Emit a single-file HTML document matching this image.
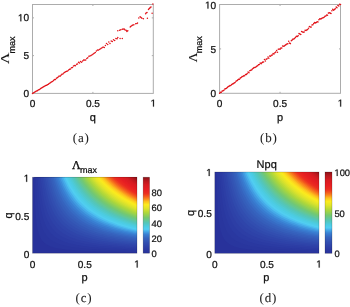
<!DOCTYPE html>
<html><head><meta charset="utf-8"><title>figure</title>
<style>
html,body{margin:0;padding:0;background:#fff;}
body{width:350px;height:307px;overflow:hidden;font-family:"Liberation Sans",sans-serif;}
svg{display:block;filter:blur(0.3px);}
text{fill:#111;stroke:#111;stroke-width:0.24px;text-rendering:geometricPrecision;}
</style></head><body>
<svg width="350" height="307" viewBox="0 0 350 307">
<rect width="350" height="307" fill="#fff"/>
<g>
<rect x="32.50" y="4.50" width="120.80" height="88.90" fill="none" stroke="#acacac" stroke-width="1"/>
<path d="M92.90 93.40v-1.5M92.90 4.50v1.5" stroke="#acacac" stroke-width="1" fill="none"/>
<path d="M32.50 55.63h1.5M153.30 55.63h-1.5" stroke="#acacac" stroke-width="1" fill="none"/>
<path d="M32.50 17.87h1.5M153.30 17.87h-1.5" stroke="#acacac" stroke-width="1" fill="none"/>
<text x="29.10" y="96.80" font-size="10.1" text-anchor="end" font-family="Liberation Sans" >0</text>
<text x="29.10" y="59.03" font-size="10.1" text-anchor="end" font-family="Liberation Sans" >5</text>
<path d="M20.41 21.27L20.41 15.17L18.84 16.29L18.84 15.45L20.48 14.32L21.30 14.32L21.30 21.27Z" fill="#111" stroke="#111" stroke-width="0.24"/>
<text x="23.48" y="21.27" font-size="10.1" font-family="Liberation Sans" >0</text>
<text x="32.50" y="106.60" font-size="10.1" text-anchor="middle" font-family="Liberation Sans" >0</text>
<text x="92.90" y="106.60" font-size="10.1" text-anchor="middle" font-family="Liberation Sans" >0.5</text>
<path d="M153.03 106.60L153.03 100.50L151.46 101.62L151.46 100.78L153.11 99.65L153.92 99.65L153.92 106.60Z" fill="#111" stroke="#111" stroke-width="0.24"/>
<text x="92.80" y="121.00" font-size="11" text-anchor="middle" font-family="Liberation Sans" >q</text>
<g transform="translate(9.10 64.00) rotate(-90)" ><text x="0" y="0" font-family="Liberation Serif" font-size="12" transform="scale(1.3 1)" style="stroke-width:0.1px">&#923;</text><text x="10.50" y="5.40" font-family="Liberation Sans" font-size="9">max</text></g>
<text x="81.20" y="142.00" font-size="13" text-anchor="middle" font-family="Liberation Serif" letter-spacing="0.8" style="stroke-width:0.05px;fill:#222">(a)</text>
<path d="M152.9 4.0h0M151.0 6.9h0M149.8 8.2h0M148.5 9.5h0M152.1 13.2h0M147.0 12.4h0M145.6 13.7h0M147.4 18.3h0M143.4 18.8h0M141.9 18.3h0M140.1 16.8h0M138.8 17.9h0M137.5 22.9h0M135.7 23.8h0M133.9 24.7h0M132.0 25.6h0M130.2 27.1h0M127.8 30.7h0M126.9 31.4h0M126.0 30.2h0M124.2 28.9h0M122.3 29.3h0M119.6 30.2h0M117.8 30.7h0M122.3 38.4h0M120.1 38.4h0M117.8 37.5h0M150.1 7.4h0M149.0 8.8h0M146.1 13.0h0M141.0 17.6h0M137.0 23.5h0M132.9 25.1h0M131.0 26.3h0M126.5 30.8h0M124.8 29.7h0M123.1 29.0h0M120.8 29.8h0M32.5 93.6h0M33.3 93.1h0M34.1 92.5h0M34.9 92.0h0M35.7 91.6h0M36.5 91.1h0M37.4 90.7h0M38.2 90.1h0M39.0 89.7h0M39.8 89.2h0M40.7 88.6h0M41.5 88.1h0M42.4 87.6h0M43.2 87.0h0M44.0 86.4h0M44.9 86.0h0M45.8 85.6h0M46.6 85.3h0M47.5 84.7h0M48.4 84.2h0M49.2 83.6h0M50.1 83.0h0M51.0 82.3h0M51.9 81.8h0M52.8 81.3h0M53.7 80.2h0M54.6 79.5h0M55.5 79.4h0M56.4 78.3h0M57.3 77.8h0M58.2 77.1h0M59.1 76.0h0M60.1 76.2h0M61.0 75.3h0M61.9 74.3h0M62.9 73.9h0M63.8 73.1h0M64.8 72.2h0M65.7 71.8h0M66.7 71.3h0M67.6 70.9h0M68.6 70.1h0M69.6 69.3h0M70.5 69.1h0M71.5 67.7h0M72.5 67.6h0M73.5 66.0h0M74.5 65.6h0M75.5 65.8h0M76.5 64.2h0M77.5 63.9h0M78.5 62.3h0M79.5 62.9h0M80.5 61.5h0M81.6 62.2h0M82.6 60.9h0M83.6 59.9h0M84.7 60.1h0M85.7 60.1h0M86.8 58.6h0M87.8 57.7h0M88.9 56.2h0M89.9 56.1h0M91.0 55.4h0M92.1 54.8h0M93.2 53.9h0M94.2 53.3h0M95.3 52.6h0M96.4 51.1h0M97.5 50.1h0M98.6 50.0h0M99.8 49.2h0M100.9 48.6h0M102.0 47.7h0M103.1 46.9h0M104.3 47.4h0M105.4 45.5h0M106.5 43.6h0M107.7 44.4h0M108.8 42.1h0M110.0 43.6h0M111.2 41.1h0M112.3 41.6h0M113.5 39.7h0M114.7 40.5h0M115.9 38.4h0M117.1 38.8h0" stroke="#e2141a" stroke-width="1.5" stroke-linecap="round" fill="none"/>
<rect x="219.60" y="4.50" width="120.90" height="88.80" fill="none" stroke="#acacac" stroke-width="1"/>
<path d="M280.05 93.30v-1.5M280.05 4.50v1.5" stroke="#acacac" stroke-width="1" fill="none"/>
<path d="M219.60 48.90h1.5M340.50 48.90h-1.5" stroke="#acacac" stroke-width="1" fill="none"/>
<text x="216.20" y="97.40" font-size="10.1" text-anchor="end" font-family="Liberation Sans" >0</text>
<text x="216.20" y="53.00" font-size="10.1" text-anchor="end" font-family="Liberation Sans" >5</text>
<path d="M207.51 8.60L207.51 2.50L205.94 3.62L205.94 2.78L207.58 1.65L208.40 1.65L208.40 8.60Z" fill="#111" stroke="#111" stroke-width="0.24"/>
<text x="210.58" y="8.60" font-size="10.1" font-family="Liberation Sans" >0</text>
<text x="219.60" y="106.60" font-size="10.1" text-anchor="middle" font-family="Liberation Sans" >0</text>
<text x="280.05" y="106.60" font-size="10.1" text-anchor="middle" font-family="Liberation Sans" >0.5</text>
<path d="M340.23 106.60L340.23 100.50L338.66 101.62L338.66 100.78L340.31 99.65L341.12 99.65L341.12 106.60Z" fill="#111" stroke="#111" stroke-width="0.24"/>
<text x="280.00" y="121.00" font-size="11" text-anchor="middle" font-family="Liberation Sans" >p</text>
<g transform="translate(196.60 62.30) rotate(-90)" ><text x="0" y="0" font-family="Liberation Serif" font-size="12" transform="scale(1.12 1)" style="stroke-width:0.1px">&#923;</text><text x="9.00" y="5.60" font-family="Liberation Sans" font-size="9">max</text></g>
<text x="268.80" y="142.00" font-size="13" text-anchor="middle" font-family="Liberation Serif" letter-spacing="0.8" style="stroke-width:0.05px;fill:#222">(b)</text>
<path d="M219.6 93.3h0M220.5 92.3h0M221.3 92.3h0M222.2 91.1h0M223.1 90.8h0M223.9 90.2h0M224.8 88.9h0M225.6 88.8h0M226.5 88.2h0M227.4 87.4h0M228.2 86.6h0M229.1 86.3h0M230.0 85.5h0M230.8 85.4h0M231.7 84.5h0M232.6 83.9h0M233.4 83.6h0M234.3 83.0h0M235.1 82.4h0M236.0 81.3h0M236.9 80.7h0M237.7 80.1h0M238.6 79.3h0M239.5 79.2h0M240.3 78.1h0M241.2 77.4h0M242.1 76.5h0M242.9 76.5h0M243.8 75.7h0M244.6 75.7h0M245.5 74.5h0M246.4 74.5h0M247.2 73.6h0M248.1 71.9h0M249.0 72.7h0M249.8 70.8h0M250.7 70.3h0M251.6 70.0h0M252.4 69.0h0M253.3 68.3h0M254.1 67.5h0M255.0 67.4h0M255.9 66.9h0M256.7 66.3h0M257.6 65.8h0M258.5 64.8h0M259.3 64.5h0M260.2 63.0h0M261.1 63.8h0M261.9 62.7h0M262.8 62.1h0M263.6 62.0h0M264.5 59.4h0M265.4 60.9h0M266.2 59.2h0M267.1 58.7h0M268.0 56.9h0M268.8 58.2h0M269.7 55.9h0M270.6 56.3h0M271.4 55.3h0M272.3 55.0h0M273.1 53.6h0M274.0 54.0h0M274.9 52.7h0M275.7 51.9h0M276.6 50.4h0M277.5 52.2h0M278.3 49.3h0M279.2 49.0h0M280.1 49.2h0M280.9 48.1h0M281.8 47.9h0M282.6 46.0h0M283.5 46.2h0M284.4 45.9h0M285.2 45.2h0M286.1 44.6h0M287.0 43.9h0M287.8 43.7h0M288.7 41.3h0M289.5 43.1h0M290.4 43.6h0M291.3 40.7h0M292.1 40.1h0M293.0 39.1h0M293.9 38.9h0M294.7 38.2h0M295.6 37.3h0M296.5 36.2h0M297.3 36.5h0M298.2 35.8h0M299.0 33.6h0M299.9 34.0h0M300.8 34.4h0M301.6 31.4h0M302.5 31.9h0M303.4 32.2h0M304.2 32.0h0M305.1 30.3h0M306.0 30.5h0M306.8 30.0h0M307.7 29.5h0M308.5 28.3h0M309.4 26.5h0M310.3 27.0h0M311.1 27.1h0M312.0 24.9h0M312.9 24.7h0M313.7 23.5h0M314.6 22.6h0M315.5 23.0h0M316.3 22.4h0M317.2 21.7h0M318.0 21.9h0M318.9 19.8h0M319.8 18.7h0M320.6 19.0h0M321.5 18.6h0M322.4 18.0h0M323.2 17.8h0M324.1 17.2h0M325.0 16.2h0M325.8 16.0h0M326.7 15.0h0M327.5 15.3h0M328.4 13.1h0M329.3 12.7h0M330.1 13.1h0M331.0 13.4h0M331.9 10.8h0M332.7 9.3h0M333.6 10.2h0M334.5 9.4h0M335.3 8.8h0M336.2 7.1h0M337.0 7.8h0M337.9 5.5h0M338.8 6.0h0M339.6 4.3h0M340.5 4.5h0" stroke="#e2141a" stroke-width="1.55" stroke-linecap="round" fill="none"/>
<rect x="32.50" y="177.20" width="104.50" height="76.00" fill="#28329b"/>
<path d="M34.1 177.2L34.3 184.2L34.5 190.6L34.7 196.4L34.9 201.6L35.1 206.4L35.4 210.7L35.7 214.7L36.0 218.2L36.4 221.5L36.8 224.4L37.2 227.1L37.7 229.5L38.2 231.7L38.8 233.7L39.4 235.5L40.1 237.1L40.9 238.6L41.7 239.9L42.7 241.2L43.7 242.3L44.9 243.3L46.1 244.2L47.5 245.0L49.0 245.8L50.7 246.5L52.6 247.1L54.6 247.7L56.9 248.2L59.4 248.6L62.1 249.1L65.1 249.4L68.4 249.8L72.1 250.1L76.1 250.4L80.6 250.7L85.5 250.9L90.9 251.1L96.8 251.3L103.4 251.5L110.6 251.6L118.6 251.8L127.3 251.9L137.0 252.0L137.0 177.2Z" fill="#29369e"/>
<path d="M35.7 177.2L36.0 183.2L36.3 188.8L36.6 193.9L37.0 198.6L37.4 203.0L37.8 207.0L38.3 210.6L38.8 214.0L39.3 217.1L39.9 220.0L40.5 222.6L41.2 225.1L42.0 227.3L42.8 229.4L43.7 231.3L44.6 233.0L45.7 234.6L46.8 236.1L48.1 237.4L49.4 238.7L50.9 239.9L52.4 240.9L54.2 241.9L56.0 242.8L58.1 243.6L60.3 244.4L62.7 245.1L65.3 245.7L68.1 246.3L71.2 246.9L74.5 247.4L78.1 247.8L82.1 248.3L86.4 248.7L91.0 249.0L96.1 249.3L101.6 249.7L107.5 249.9L114.0 250.2L121.0 250.4L128.7 250.7L137.0 250.9L137.0 177.2Z" fill="#2a38a0"/>
<path d="M37.3 177.2L37.7 182.6L38.1 187.5L38.5 192.2L39.0 196.5L39.5 200.5L40.0 204.2L40.6 207.7L41.2 210.9L41.8 213.9L42.6 216.6L43.3 219.2L44.1 221.6L45.0 223.8L46.0 225.9L47.0 227.8L48.1 229.6L49.3 231.3L50.5 232.8L51.9 234.3L53.4 235.6L55.0 236.9L56.7 238.0L58.5 239.1L60.5 240.1L62.6 241.0L64.9 241.9L67.4 242.7L70.0 243.4L72.9 244.1L75.9 244.7L79.2 245.3L82.8 245.9L86.6 246.4L90.7 246.9L95.1 247.3L99.9 247.7L105.0 248.1L110.5 248.5L116.4 248.8L122.8 249.1L129.6 249.4L137.0 249.7L137.0 177.2Z" fill="#2b3ba3"/>
<path d="M38.9 177.2L39.4 182.2L39.9 186.9L40.4 191.2L41.0 195.3L41.6 199.1L42.2 202.6L42.9 206.0L43.6 209.1L44.4 212.0L45.2 214.7L46.1 217.2L47.1 219.6L48.1 221.8L49.2 223.8L50.4 225.8L51.6 227.6L53.0 229.3L54.4 230.8L55.9 232.3L57.6 233.7L59.4 235.0L61.2 236.2L63.3 237.3L65.4 238.3L67.7 239.3L70.2 240.2L72.9 241.1L75.7 241.9L78.7 242.6L82.0 243.3L85.5 244.0L89.2 244.6L93.2 245.1L97.4 245.7L102.0 246.2L106.9 246.6L112.1 247.0L117.7 247.5L123.7 247.8L130.1 248.2L137.0 248.5L137.0 177.2Z" fill="#2d3ea5"/>
<path d="M40.6 177.2L41.1 181.9L41.7 186.3L42.3 190.5L42.9 194.4L43.6 198.0L44.3 201.5L45.1 204.7L46.0 207.7L46.8 210.5L47.8 213.2L48.8 215.6L49.9 218.0L51.0 220.2L52.3 222.2L53.6 224.1L55.0 225.9L56.4 227.6L58.0 229.2L59.7 230.7L61.5 232.1L63.4 233.4L65.5 234.6L67.7 235.8L70.0 236.9L72.5 237.9L75.1 238.8L77.9 239.7L80.9 240.6L84.2 241.3L87.6 242.1L91.2 242.8L95.1 243.4L99.2 244.0L103.7 244.6L108.4 245.1L113.4 245.6L118.7 246.1L124.4 246.5L130.5 247.0L137.0 247.3L137.0 177.2Z" fill="#2e42a8"/>
<path d="M42.2 177.2L42.8 181.6L43.4 185.7L44.1 189.6L44.8 193.3L45.5 196.8L46.3 200.0L47.2 203.1L48.1 206.0L49.0 208.7L50.0 211.3L51.1 213.7L52.2 216.0L53.5 218.1L54.7 220.2L56.1 222.1L57.6 223.9L59.1 225.6L60.7 227.2L62.5 228.7L64.3 230.1L66.2 231.4L68.3 232.7L70.5 233.9L72.8 235.0L75.3 236.0L77.9 237.0L80.7 238.0L83.7 238.8L86.8 239.7L90.1 240.4L93.7 241.2L97.4 241.9L101.4 242.5L105.6 243.2L110.1 243.7L114.9 244.3L119.9 244.8L125.3 245.3L131.0 245.7L137.0 246.2L137.0 177.2Z" fill="#2f45aa"/>
<path d="M43.8 177.2L44.4 181.4L45.1 185.4L45.9 189.2L46.7 192.7L47.5 196.1L48.4 199.2L49.3 202.2L50.3 205.1L51.4 207.7L52.5 210.3L53.6 212.6L54.9 214.9L56.2 217.0L57.6 219.0L59.1 220.9L60.6 222.7L62.3 224.4L64.0 226.0L65.9 227.5L67.8 228.9L69.9 230.3L72.1 231.5L74.4 232.8L76.9 233.9L79.5 235.0L82.3 236.0L85.2 236.9L88.3 237.8L91.6 238.7L95.0 239.5L98.7 240.2L102.6 241.0L106.7 241.6L111.1 242.3L115.7 242.9L120.6 243.5L125.7 244.0L131.2 244.5L137.0 245.0L137.0 177.2Z" fill="#304aad"/>
<path d="M45.4 177.2L46.1 181.2L46.9 184.9L47.6 188.5L48.5 191.9L49.4 195.1L50.3 198.1L51.3 201.0L52.3 203.7L53.4 206.3L54.5 208.8L55.8 211.1L57.0 213.3L58.4 215.4L59.8 217.3L61.3 219.2L62.9 221.0L64.6 222.7L66.4 224.3L68.2 225.8L70.2 227.2L72.3 228.6L74.5 229.9L76.8 231.1L79.2 232.2L81.8 233.3L84.5 234.4L87.4 235.3L90.4 236.3L93.6 237.2L97.0 238.0L100.5 238.8L104.3 239.5L108.2 240.3L112.4 240.9L116.8 241.6L121.5 242.2L126.4 242.8L131.5 243.3L137.0 243.8L137.0 177.2Z" fill="#324eb0"/>
<path d="M47.0 177.2L47.8 181.0L48.6 184.7L49.5 188.2L50.4 191.5L51.3 194.6L52.3 197.6L53.4 200.4L54.5 203.1L55.7 205.6L56.9 208.0L58.2 210.3L59.6 212.5L61.0 214.5L62.5 216.5L64.1 218.3L65.8 220.1L67.6 221.8L69.5 223.4L71.4 224.9L73.5 226.3L75.7 227.7L78.0 229.0L80.4 230.2L83.0 231.4L85.7 232.5L88.5 233.5L91.5 234.5L94.6 235.5L98.0 236.4L101.5 237.2L105.1 238.0L109.0 238.8L113.1 239.5L117.4 240.2L121.9 240.9L126.7 241.5L131.7 242.1L137.0 242.7L137.0 177.2Z" fill="#3353b3"/>
<path d="M48.6 177.2L49.5 180.9L50.3 184.5L51.3 187.9L52.2 191.1L53.2 194.2L54.3 197.1L55.5 199.8L56.6 202.5L57.9 205.0L59.2 207.3L60.6 209.6L62.1 211.8L63.6 213.8L65.2 215.7L66.9 217.6L68.7 219.3L70.5 221.0L72.5 222.6L74.6 224.1L76.8 225.5L79.1 226.9L81.5 228.2L84.0 229.4L86.7 230.6L89.5 231.7L92.4 232.8L95.6 233.8L98.8 234.7L102.3 235.6L105.9 236.5L109.7 237.3L113.7 238.1L117.9 238.9L122.3 239.6L127.0 240.2L131.9 240.9L137.0 241.5L137.0 177.2Z" fill="#3458b6"/>
<path d="M50.2 177.2L51.1 180.8L52.0 184.1L53.0 187.4L54.0 190.5L55.0 193.4L56.1 196.2L57.3 198.9L58.5 201.4L59.8 203.8L61.1 206.1L62.5 208.4L64.0 210.5L65.6 212.5L67.2 214.4L68.9 216.2L70.7 217.9L72.6 219.6L74.5 221.1L76.6 222.6L78.8 224.1L81.0 225.4L83.4 226.7L85.9 228.0L88.5 229.2L91.3 230.3L94.2 231.4L97.2 232.4L100.4 233.4L103.7 234.3L107.2 235.2L110.9 236.0L114.7 236.8L118.8 237.6L123.0 238.3L127.4 239.0L132.1 239.7L137.0 240.3L137.0 177.2Z" fill="#355eba"/>
<path d="M51.8 177.2L52.8 180.7L53.7 184.0L54.8 187.2L55.8 190.2L56.9 193.1L58.1 195.8L59.3 198.5L60.6 201.0L62.0 203.4L63.4 205.6L64.9 207.8L66.4 209.9L68.1 211.9L69.8 213.8L71.6 215.6L73.4 217.3L75.4 218.9L77.5 220.5L79.6 222.0L81.9 223.4L84.2 224.8L86.7 226.1L89.3 227.3L92.1 228.5L94.9 229.6L97.9 230.7L101.0 231.8L104.3 232.7L107.8 233.7L111.4 234.6L115.2 235.4L119.1 236.2L123.3 237.0L127.7 237.8L132.2 238.5L137.0 239.1L137.0 177.2Z" fill="#3663be"/>
<path d="M53.5 177.2L54.4 180.6L55.5 183.9L56.5 187.0L57.7 190.0L58.9 192.8L60.1 195.5L61.4 198.1L62.7 200.6L64.2 202.9L65.7 205.2L67.2 207.3L68.8 209.4L70.6 211.4L72.3 213.2L74.2 215.0L76.2 216.7L78.2 218.4L80.4 219.9L82.6 221.4L85.0 222.9L87.4 224.2L90.0 225.5L92.7 226.8L95.6 228.0L98.5 229.1L101.6 230.2L104.9 231.2L108.3 232.2L111.8 233.1L115.6 234.0L119.5 234.9L123.6 235.7L127.8 236.5L132.3 237.2L137.0 238.0L137.0 177.2Z" fill="#376bc4"/>
<path d="M55.1 177.2L56.1 180.5L57.1 183.6L58.2 186.6L59.4 189.4L60.6 192.1L61.8 194.8L63.2 197.3L64.5 199.7L66.0 202.0L67.5 204.2L69.0 206.3L70.7 208.3L72.4 210.2L74.2 212.0L76.0 213.8L78.0 215.5L80.0 217.1L82.1 218.7L84.4 220.1L86.7 221.5L89.1 222.9L91.6 224.2L94.3 225.4L97.0 226.6L99.9 227.8L103.0 228.9L106.1 229.9L109.4 230.9L112.9 231.9L116.4 232.8L120.2 233.6L124.1 234.5L128.2 235.3L132.5 236.1L137.0 236.8L137.0 177.2Z" fill="#3874ca"/>
<path d="M56.7 177.2L57.7 180.4L58.8 183.5L60.0 186.4L61.2 189.2L62.5 191.9L63.8 194.5L65.2 197.0L66.6 199.3L68.1 201.6L69.7 203.8L71.3 205.9L73.0 207.9L74.8 209.8L76.7 211.6L78.6 213.4L80.6 215.0L82.8 216.6L85.0 218.2L87.3 219.7L89.7 221.1L92.2 222.4L94.8 223.7L97.6 225.0L100.4 226.2L103.4 227.3L106.5 228.4L109.8 229.4L113.2 230.4L116.8 231.4L120.5 232.3L124.3 233.2L128.4 234.0L132.6 234.8L137.0 235.6L137.0 177.2Z" fill="#397dd1"/>
<path d="M58.3 177.2L59.4 180.3L60.5 183.2L61.7 186.0L62.9 188.7L64.2 191.3L65.5 193.8L66.9 196.2L68.3 198.5L69.8 200.7L71.4 202.8L73.1 204.9L74.8 206.8L76.5 208.7L78.4 210.5L80.3 212.2L82.3 213.9L84.4 215.4L86.6 217.0L88.9 218.4L91.2 219.8L93.7 221.2L96.3 222.5L98.9 223.7L101.7 224.9L104.7 226.0L107.7 227.1L110.8 228.2L114.1 229.2L117.6 230.2L121.1 231.1L124.9 232.0L128.7 232.8L132.8 233.7L137.0 234.4L137.0 177.2Z" fill="#3c8ad8"/>
<path d="M59.9 177.2L61.0 180.2L62.2 183.1L63.4 185.9L64.7 188.6L66.1 191.2L67.4 193.6L68.9 196.0L70.4 198.3L72.0 200.4L73.6 202.5L75.3 204.6L77.1 206.5L78.9 208.3L80.8 210.1L82.8 211.8L84.9 213.5L87.1 215.1L89.4 216.6L91.7 218.0L94.2 219.4L96.7 220.8L99.4 222.1L102.2 223.3L105.0 224.5L108.0 225.6L111.2 226.7L114.4 227.8L117.8 228.8L121.3 229.8L125.0 230.7L128.9 231.6L132.8 232.4L137.0 233.3L137.0 177.2Z" fill="#419be1"/>
<path d="M61.5 177.2L62.7 180.2L63.9 183.1L65.2 185.8L66.5 188.4L67.9 191.0L69.4 193.4L70.9 195.8L72.5 198.0L74.1 200.2L75.8 202.3L77.6 204.3L79.4 206.2L81.3 208.0L83.3 209.8L85.4 211.5L87.6 213.2L89.8 214.7L92.1 216.2L94.6 217.7L97.1 219.1L99.8 220.4L102.5 221.7L105.4 222.9L108.4 224.1L111.5 225.3L114.7 226.4L118.0 227.4L121.5 228.4L125.2 229.4L129.0 230.3L132.9 231.2L137.0 232.1L137.0 177.2Z" fill="#46adea"/>
<path d="M63.1 177.2L64.3 180.1L65.6 182.8L66.9 185.5L68.2 188.0L69.6 190.5L71.0 192.8L72.6 195.1L74.1 197.3L75.7 199.4L77.4 201.4L79.2 203.4L81.0 205.2L82.9 207.0L84.9 208.8L86.9 210.5L89.1 212.1L91.3 213.6L93.6 215.1L96.0 216.5L98.4 217.9L101.0 219.2L103.7 220.5L106.5 221.7L109.4 222.9L112.4 224.1L115.5 225.2L118.8 226.2L122.1 227.2L125.6 228.2L129.3 229.2L133.1 230.1L137.0 230.9L137.0 177.2Z" fill="#4dc1f0"/>
<path d="M64.7 177.2L66.0 180.0L67.3 182.8L68.6 185.4L70.0 187.9L71.5 190.3L73.0 192.7L74.5 194.9L76.2 197.1L77.9 199.2L79.6 201.2L81.4 203.1L83.3 205.0L85.3 206.8L87.3 208.5L89.4 210.2L91.6 211.8L93.9 213.3L96.3 214.8L98.8 216.2L101.3 217.6L104.0 218.9L106.8 220.2L109.6 221.4L112.6 222.6L115.7 223.8L118.9 224.9L122.3 225.9L125.8 226.9L129.4 227.9L133.1 228.9L137.0 229.8L137.0 177.2Z" fill="#51cef1"/>
<path d="M66.3 177.2L67.6 179.9L68.9 182.5L70.2 185.1L71.6 187.5L73.1 189.8L74.6 192.1L76.2 194.3L77.8 196.4L79.4 198.4L81.2 200.4L83.0 202.3L84.9 204.1L86.8 205.8L88.8 207.5L90.9 209.2L93.1 210.7L95.3 212.2L97.6 213.7L100.0 215.1L102.5 216.5L105.1 217.8L107.8 219.1L110.6 220.3L113.5 221.5L116.5 222.6L119.6 223.7L122.9 224.7L126.2 225.7L129.7 226.7L133.3 227.7L137.0 228.6L137.0 177.2Z" fill="#4ecde9"/>
<path d="M68.0 177.2L69.3 179.9L70.6 182.5L72.0 185.0L73.5 187.4L75.0 189.7L76.5 192.0L78.1 194.1L79.8 196.2L81.5 198.2L83.3 200.2L85.2 202.1L87.1 203.9L89.1 205.6L91.2 207.3L93.4 208.9L95.6 210.5L97.9 212.0L100.3 213.5L102.8 214.9L105.4 216.2L108.1 217.5L110.8 218.8L113.7 220.0L116.7 221.2L119.8 222.3L123.0 223.4L126.3 224.5L129.7 225.5L133.3 226.5L137.0 227.4L137.0 177.2Z" fill="#4ccce1"/>
<path d="M69.6 177.2L70.9 179.9L72.3 182.4L73.8 184.9L75.3 187.3L76.8 189.6L78.4 191.9L80.1 194.0L81.8 196.1L83.6 198.1L85.5 200.0L87.4 201.9L89.4 203.7L91.5 205.4L93.6 207.1L95.9 208.7L98.2 210.3L100.6 211.8L103.0 213.3L105.6 214.7L108.3 216.0L111.0 217.3L113.9 218.6L116.8 219.8L119.9 221.0L123.1 222.1L126.4 223.2L129.8 224.2L133.3 225.3L137.0 226.2L137.0 177.2Z" fill="#4fcad4"/>
<path d="M71.2 177.2L72.5 179.8L73.9 182.2L75.4 184.6L76.9 186.9L78.4 189.2L80.0 191.3L81.7 193.4L83.4 195.4L85.2 197.4L87.0 199.3L88.9 201.1L90.9 202.8L92.9 204.5L95.0 206.2L97.2 207.7L99.4 209.3L101.8 210.8L104.2 212.2L106.7 213.6L109.3 214.9L111.9 216.2L114.7 217.4L117.6 218.6L120.5 219.8L123.6 220.9L126.8 222.0L130.1 223.1L133.5 224.1L137.0 225.1L137.0 177.2Z" fill="#51c8c6"/>
<path d="M72.8 177.2L74.2 179.7L75.6 182.2L77.1 184.6L78.7 186.9L80.3 189.1L81.9 191.2L83.6 193.3L85.4 195.3L87.2 197.3L89.1 199.1L91.1 200.9L93.1 202.7L95.2 204.4L97.4 206.0L99.6 207.6L102.0 209.1L104.4 210.6L106.9 212.0L109.4 213.4L112.1 214.7L114.8 216.0L117.7 217.3L120.6 218.5L123.7 219.6L126.9 220.7L130.1 221.8L133.5 222.9L137.0 223.9L137.0 177.2Z" fill="#54c6b9"/>
<path d="M74.4 177.2L75.8 179.7L77.3 182.2L78.9 184.5L80.5 186.8L82.1 189.0L83.8 191.2L85.6 193.2L87.4 195.2L89.3 197.2L91.3 199.0L93.3 200.8L95.4 202.6L97.6 204.3L99.8 205.9L102.1 207.5L104.5 209.0L107.0 210.5L109.6 211.9L112.2 213.2L115.0 214.6L117.8 215.9L120.7 217.1L123.8 218.3L126.9 219.5L130.2 220.6L133.5 221.7L137.0 222.7L137.0 177.2Z" fill="#5bc6a8"/>
<path d="M76.0 177.2L77.4 179.6L78.9 182.0L80.5 184.2L82.0 186.5L83.7 188.6L85.4 190.6L87.1 192.6L88.9 194.6L90.8 196.4L92.7 198.3L94.7 200.0L96.7 201.7L98.8 203.4L101.0 204.9L103.3 206.5L105.6 208.0L108.0 209.4L110.5 210.8L113.1 212.2L115.8 213.5L118.5 214.8L121.3 216.0L124.3 217.2L127.3 218.3L130.4 219.4L133.7 220.5L137.0 221.6L137.0 177.2Z" fill="#63c797"/>
<path d="M77.6 177.2L79.1 179.6L80.6 182.0L82.2 184.2L83.8 186.4L85.5 188.5L87.3 190.6L89.1 192.6L90.9 194.5L92.8 196.4L94.8 198.2L96.9 199.9L99.0 201.6L101.2 203.3L103.4 204.8L105.8 206.4L108.2 207.9L110.6 209.3L113.2 210.7L115.9 212.1L118.6 213.4L121.4 214.6L124.3 215.9L127.3 217.0L130.5 218.2L133.7 219.3L137.0 220.4L137.0 177.2Z" fill="#6ac786"/>
<path d="M79.2 177.2L80.7 179.5L82.2 181.8L83.8 183.9L85.4 186.0L87.1 188.1L88.8 190.1L90.5 192.0L92.4 193.9L94.2 195.7L96.2 197.4L98.2 199.1L100.3 200.8L102.4 202.4L104.6 203.9L106.8 205.4L109.2 206.9L111.6 208.3L114.1 209.7L116.6 211.0L119.3 212.3L122.0 213.5L124.8 214.7L127.7 215.9L130.7 217.0L133.8 218.1L137.0 219.2L137.0 177.2Z" fill="#72c875"/>
<path d="M80.8 177.2L82.4 179.5L83.9 181.7L85.5 183.9L87.2 186.0L88.9 188.1L90.7 190.0L92.5 192.0L94.4 193.8L96.3 195.6L98.3 197.4L100.4 199.1L102.5 200.7L104.7 202.3L106.9 203.8L109.3 205.3L111.7 206.8L114.2 208.2L116.7 209.6L119.4 210.9L122.1 212.2L124.9 213.4L127.8 214.6L130.8 215.8L133.8 216.9L137.0 218.0L137.0 177.2Z" fill="#7ecb67"/>
<path d="M82.5 177.2L84.0 179.5L85.6 181.7L87.3 183.9L89.0 186.0L90.8 188.0L92.6 190.0L94.5 191.9L96.4 193.8L98.4 195.6L100.4 197.3L102.6 199.0L104.8 200.7L107.0 202.2L109.3 203.8L111.7 205.3L114.2 206.7L116.8 208.1L119.4 209.5L122.1 210.8L124.9 212.1L127.8 213.4L130.8 214.6L133.8 215.7L137.0 216.9L137.0 177.2Z" fill="#8bce5a"/>
<path d="M84.1 177.2L85.6 179.4L87.2 181.5L88.8 183.6L90.5 185.6L92.2 187.6L94.0 189.5L95.9 191.3L97.8 193.1L99.7 194.9L101.7 196.6L103.8 198.2L105.9 199.8L108.1 201.4L110.4 202.9L112.7 204.3L115.1 205.7L117.5 207.1L120.1 208.5L122.7 209.7L125.4 211.0L128.2 212.2L131.0 213.4L134.0 214.6L137.0 215.7L137.0 177.2Z" fill="#99d24e"/>
<path d="M85.7 177.2L87.3 179.4L88.9 181.5L90.6 183.6L92.3 185.6L94.1 187.6L95.9 189.5L97.8 191.3L99.8 193.1L101.8 194.9L103.8 196.5L106.0 198.2L108.2 199.8L110.4 201.3L112.7 202.8L115.1 204.3L117.6 205.7L120.1 207.1L122.7 208.4L125.4 209.7L128.2 211.0L131.0 212.2L134.0 213.4L137.0 214.5L137.0 177.2Z" fill="#a6d541"/>
<path d="M87.3 177.2L88.9 179.3L90.5 181.3L92.1 183.3L93.8 185.3L95.6 187.2L97.3 189.0L99.2 190.8L101.1 192.5L103.0 194.2L105.1 195.8L107.1 197.4L109.2 198.9L111.4 200.4L113.7 201.9L116.0 203.3L118.4 204.7L120.8 206.0L123.3 207.3L125.9 208.6L128.6 209.8L131.3 211.0L134.1 212.2L137.0 213.3L137.0 177.2Z" fill="#b4d939"/>
<path d="M88.9 177.2L90.5 179.3L92.2 181.3L93.9 183.3L95.6 185.3L97.4 187.1L99.2 189.0L101.1 190.7L103.1 192.5L105.1 194.1L107.2 195.8L109.3 197.4L111.5 198.9L113.7 200.4L116.0 201.9L118.4 203.3L120.8 204.7L123.3 206.0L125.9 207.3L128.6 208.6L131.3 209.8L134.1 211.0L137.0 212.2L137.0 177.2Z" fill="#c2dc35"/>
<path d="M90.5 177.2L92.2 179.3L93.9 181.3L95.6 183.3L97.4 185.3L99.2 187.1L101.1 189.0L103.1 190.7L105.1 192.5L107.2 194.1L109.3 195.8L111.5 197.4L113.7 198.9L116.0 200.4L118.4 201.9L120.8 203.3L123.3 204.7L125.9 206.0L128.6 207.3L131.3 208.6L134.1 209.8L137.0 211.0L137.0 177.2Z" fill="#d0e030"/>
<path d="M92.1 177.2L93.7 179.2L95.4 181.2L97.1 183.1L98.9 184.9L100.7 186.7L102.5 188.5L104.4 190.2L106.3 191.8L108.3 193.4L110.4 195.0L112.5 196.6L114.7 198.0L116.9 199.5L119.2 200.9L121.5 202.3L123.9 203.6L126.4 204.9L129.0 206.2L131.6 207.5L134.2 208.7L137.0 209.8L137.0 177.2Z" fill="#dde32b"/>
<path d="M93.7 177.2L95.4 179.2L97.1 181.2L98.9 183.1L100.6 184.9L102.5 186.7L104.4 188.5L106.3 190.2L108.3 191.8L110.4 193.4L112.5 195.0L114.7 196.6L116.9 198.0L119.2 199.5L121.5 200.9L123.9 202.3L126.4 203.6L129.0 204.9L131.6 206.2L134.2 207.5L137.0 208.7L137.0 177.2Z" fill="#e8e627"/>
<path d="M95.4 177.2L97.1 179.2L98.8 181.2L100.6 183.1L102.5 184.9L104.3 186.7L106.3 188.5L108.3 190.2L110.4 191.8L112.5 193.5L114.6 195.0L116.9 196.6L119.2 198.1L121.5 199.5L123.9 200.9L126.4 202.3L128.9 203.7L131.6 205.0L134.2 206.2L137.0 207.5L137.0 177.2Z" fill="#f0e923"/>
<path d="M97.0 177.2L98.6 179.1L100.3 181.0L102.1 182.8L103.9 184.5L105.7 186.3L107.6 188.0L109.5 189.6L111.5 191.2L113.5 192.7L115.6 194.3L117.8 195.7L120.0 197.2L122.2 198.6L124.5 200.0L126.9 201.3L129.3 202.6L131.8 203.9L134.4 205.1L137.0 206.3L137.0 177.2Z" fill="#f9eb1f"/>
<path d="M98.6 177.2L100.3 179.1L102.0 181.0L103.8 182.8L105.7 184.6L107.5 186.3L109.5 188.0L111.5 189.6L113.5 191.2L115.6 192.8L117.7 194.3L119.9 195.8L122.2 197.2L124.5 198.6L126.9 200.0L129.3 201.3L131.8 202.6L134.4 203.9L137.0 205.1L137.0 177.2Z" fill="#fce11e"/>
<path d="M100.2 177.2L101.8 179.0L103.5 180.8L105.3 182.5L107.0 184.2L108.9 185.8L110.7 187.4L112.6 189.0L114.6 190.5L116.6 192.0L118.7 193.5L120.8 194.9L122.9 196.3L125.1 197.7L127.4 199.0L129.7 200.3L132.1 201.5L134.5 202.8L137.0 204.0L137.0 177.2Z" fill="#fcd11e"/>
<path d="M101.8 177.2L103.5 179.0L105.2 180.8L107.0 182.5L108.8 184.2L110.7 185.8L112.6 187.5L114.6 189.0L116.6 190.6L118.6 192.1L120.7 193.5L122.9 194.9L125.1 196.3L127.4 197.7L129.7 199.0L132.1 200.3L134.5 201.6L137.0 202.8L137.0 177.2Z" fill="#fcc01e"/>
<path d="M103.4 177.2L105.1 179.0L106.9 180.8L108.8 182.5L110.6 184.2L112.5 185.9L114.5 187.5L116.5 189.1L118.6 190.6L120.7 192.1L122.9 193.6L125.1 195.0L127.3 196.4L129.7 197.7L132.1 199.1L134.5 200.4L137.0 201.6L137.0 177.2Z" fill="#fba61e"/>
<path d="M105.0 177.2L106.7 178.9L108.4 180.6L110.2 182.2L112.0 183.8L113.8 185.4L115.7 186.9L117.6 188.4L119.6 189.9L121.6 191.3L123.6 192.7L125.7 194.1L127.9 195.4L130.1 196.7L132.3 198.0L134.6 199.2L137.0 200.5L137.0 177.2Z" fill="#fa8d1e"/>
<path d="M106.6 177.2L108.3 178.9L110.1 180.6L111.9 182.2L113.7 183.8L115.6 185.4L117.5 187.0L119.5 188.5L121.5 189.9L123.6 191.3L125.7 192.7L127.9 194.1L130.1 195.5L132.3 196.8L134.6 198.0L137.0 199.3L137.0 177.2Z" fill="#f7761e"/>
<path d="M108.2 177.2L109.9 178.8L111.6 180.4L113.3 181.9L115.0 183.5L116.8 184.9L118.7 186.4L120.5 187.8L122.4 189.2L124.4 190.5L126.4 191.9L128.4 193.2L130.5 194.5L132.6 195.7L134.8 196.9L137.0 198.1L137.0 177.2Z" fill="#f4601e"/>
<path d="M109.9 177.2L111.5 178.8L113.3 180.4L115.0 181.9L116.8 183.5L118.6 184.9L120.5 186.4L122.4 187.8L124.4 189.2L126.4 190.6L128.4 191.9L130.5 193.2L132.6 194.5L134.8 195.7L137.0 196.9L137.0 177.2Z" fill="#f14d1f"/>
<path d="M111.5 177.2L113.2 178.8L114.9 180.4L116.7 182.0L118.6 183.5L120.5 185.0L122.4 186.4L124.3 187.8L126.3 189.2L128.4 190.6L130.5 191.9L132.6 193.2L134.8 194.5L137.0 195.8L137.0 177.2Z" fill="#ee3b20"/>
<path d="M113.1 177.2L114.7 178.7L116.4 180.2L118.1 181.6L119.8 183.0L121.6 184.4L123.4 185.8L125.2 187.1L127.1 188.4L129.0 189.7L130.9 191.0L132.9 192.2L134.9 193.4L137.0 194.6L137.0 177.2Z" fill="#ec2d21"/>
<path d="M114.7 177.2L116.4 178.7L118.0 180.2L119.8 181.6L121.5 183.0L123.3 184.4L125.2 185.8L127.0 187.1L129.0 188.4L130.9 189.7L132.9 191.0L134.9 192.2L137.0 193.4L137.0 177.2Z" fill="#ea2822"/>
<path d="M116.3 177.2L118.0 178.7L119.7 180.2L121.5 181.6L123.3 183.1L125.1 184.5L127.0 185.8L128.9 187.2L130.9 188.5L132.9 189.8L134.9 191.0L137.0 192.3L137.0 177.2Z" fill="#e82422"/>
<path d="M117.9 177.2L119.5 178.6L121.1 179.9L122.7 181.3L124.4 182.6L126.1 183.9L127.8 185.1L129.6 186.4L131.4 187.6L133.2 188.8L135.1 189.9L137.0 191.1L137.0 177.2Z" fill="#e61f23"/>
<path d="M119.5 177.2L121.1 178.6L122.8 179.9L124.4 181.3L126.1 182.6L127.9 183.8L129.6 185.1L131.4 186.3L133.2 187.5L135.1 188.7L137.0 189.9L137.0 177.2Z" fill="#e31e23"/>
<path d="M121.1 177.2L122.6 178.4L124.1 179.7L125.6 180.9L127.2 182.0L128.7 183.2L130.3 184.3L132.0 185.5L133.6 186.6L135.3 187.7L137.0 188.7L137.0 177.2Z" fill="#df1d23"/>
<path d="M122.7 177.2L124.2 178.4L125.7 179.6L127.3 180.8L128.8 182.0L130.4 183.1L132.0 184.3L133.7 185.4L135.3 186.5L137.0 187.6L137.0 177.2Z" fill="#db1d22"/>
<path d="M124.4 177.2L125.9 178.4L127.4 179.6L128.9 180.8L130.5 181.9L132.1 183.1L133.7 184.2L135.3 185.3L137.0 186.4L137.0 177.2Z" fill="#d71c22"/>
<path d="M126.0 177.2L127.3 178.3L128.6 179.3L130.0 180.3L131.3 181.3L132.7 182.3L134.1 183.3L135.6 184.3L137.0 185.2L137.0 177.2Z" fill="#cf1b21"/>
<path d="M127.6 177.2L128.9 178.2L130.2 179.2L131.5 180.2L132.9 181.2L134.2 182.2L135.6 183.1L137.0 184.0L137.0 177.2Z" fill="#c51a20"/>
<path d="M129.2 177.2L130.5 178.2L131.7 179.1L133.0 180.1L134.3 181.0L135.7 182.0L137.0 182.9L137.0 177.2Z" fill="#bc181e"/>
<path d="M130.8 177.2L131.8 178.0L132.8 178.7L133.9 179.5L134.9 180.2L135.9 181.0L137.0 181.7L137.0 177.2Z" fill="#af171d"/>
<path d="M132.4 177.2L133.2 177.8L133.9 178.3L134.7 178.9L135.4 179.4L136.2 180.0L137.0 180.5L137.0 177.2Z" fill="#a1151b"/>
<path d="M134.0 177.2L134.5 177.6L135.0 177.9L135.5 178.3L136.0 178.6L136.5 179.0L137.0 179.4L137.0 177.2Z" fill="#931319"/>
<rect x="32.50" y="177.20" width="104.50" height="76.00" fill="none" stroke="#000" stroke-opacity="0.28" stroke-width="0.6"/>
<linearGradient id="g143" x1="0" y1="0" x2="0" y2="1"><stop offset="0.000" stop-color="#8c1218"/><stop offset="0.010" stop-color="#951319"/><stop offset="0.020" stop-color="#9e141a"/><stop offset="0.030" stop-color="#a7161c"/><stop offset="0.040" stop-color="#b0171d"/><stop offset="0.050" stop-color="#b9181e"/><stop offset="0.060" stop-color="#bf191f"/><stop offset="0.070" stop-color="#c51a20"/><stop offset="0.080" stop-color="#cb1a20"/><stop offset="0.090" stop-color="#d11b21"/><stop offset="0.100" stop-color="#d71c22"/><stop offset="0.110" stop-color="#da1c22"/><stop offset="0.120" stop-color="#dc1d22"/><stop offset="0.130" stop-color="#de1d22"/><stop offset="0.140" stop-color="#e11d23"/><stop offset="0.150" stop-color="#e41e23"/><stop offset="0.160" stop-color="#e61e23"/><stop offset="0.170" stop-color="#e72123"/><stop offset="0.180" stop-color="#e82422"/><stop offset="0.190" stop-color="#e92722"/><stop offset="0.200" stop-color="#ea2a22"/><stop offset="0.210" stop-color="#eb2d21"/><stop offset="0.220" stop-color="#ed3421"/><stop offset="0.230" stop-color="#ef3f20"/><stop offset="0.240" stop-color="#f14b1f"/><stop offset="0.250" stop-color="#f3561e"/><stop offset="0.260" stop-color="#f5631e"/><stop offset="0.270" stop-color="#f7711e"/><stop offset="0.280" stop-color="#f8801e"/><stop offset="0.290" stop-color="#fa8e1e"/><stop offset="0.300" stop-color="#fb9f1e"/><stop offset="0.310" stop-color="#fbaf1e"/><stop offset="0.320" stop-color="#fcc01e"/><stop offset="0.330" stop-color="#fcca1e"/><stop offset="0.340" stop-color="#fcd51e"/><stop offset="0.350" stop-color="#fcdf1e"/><stop offset="0.360" stop-color="#fcea1e"/><stop offset="0.370" stop-color="#f8eb20"/><stop offset="0.380" stop-color="#f2e922"/><stop offset="0.390" stop-color="#ece725"/><stop offset="0.400" stop-color="#e7e628"/><stop offset="0.410" stop-color="#e1e42a"/><stop offset="0.420" stop-color="#d8e22d"/><stop offset="0.430" stop-color="#cfe030"/><stop offset="0.440" stop-color="#c7de33"/><stop offset="0.450" stop-color="#bedb36"/><stop offset="0.460" stop-color="#b5d939"/><stop offset="0.470" stop-color="#acd73c"/><stop offset="0.480" stop-color="#a3d544"/><stop offset="0.490" stop-color="#9bd24c"/><stop offset="0.500" stop-color="#92d054"/><stop offset="0.510" stop-color="#8ace5c"/><stop offset="0.520" stop-color="#81cb64"/><stop offset="0.530" stop-color="#78c96c"/><stop offset="0.540" stop-color="#72c876"/><stop offset="0.550" stop-color="#6dc881"/><stop offset="0.560" stop-color="#68c78c"/><stop offset="0.570" stop-color="#63c797"/><stop offset="0.580" stop-color="#5ec7a2"/><stop offset="0.590" stop-color="#59c6ad"/><stop offset="0.600" stop-color="#54c6b8"/><stop offset="0.610" stop-color="#52c7c0"/><stop offset="0.620" stop-color="#51c8c9"/><stop offset="0.630" stop-color="#4fcad1"/><stop offset="0.640" stop-color="#4ecbda"/><stop offset="0.650" stop-color="#4ccce2"/><stop offset="0.660" stop-color="#4ecde7"/><stop offset="0.670" stop-color="#4fcdec"/><stop offset="0.680" stop-color="#51cef1"/><stop offset="0.690" stop-color="#50c8f2"/><stop offset="0.700" stop-color="#4bbbee"/><stop offset="0.710" stop-color="#46aeea"/><stop offset="0.720" stop-color="#43a3e5"/><stop offset="0.730" stop-color="#4098df"/><stop offset="0.740" stop-color="#3d8dda"/><stop offset="0.750" stop-color="#3a82d4"/><stop offset="0.760" stop-color="#397cd0"/><stop offset="0.770" stop-color="#3876cc"/><stop offset="0.780" stop-color="#3871c7"/><stop offset="0.790" stop-color="#376bc3"/><stop offset="0.800" stop-color="#3665bf"/><stop offset="0.810" stop-color="#3561bd"/><stop offset="0.820" stop-color="#355eba"/><stop offset="0.830" stop-color="#345ab8"/><stop offset="0.840" stop-color="#3457b5"/><stop offset="0.850" stop-color="#3353b3"/><stop offset="0.860" stop-color="#3250b1"/><stop offset="0.870" stop-color="#314daf"/><stop offset="0.880" stop-color="#314bae"/><stop offset="0.890" stop-color="#3048ac"/><stop offset="0.900" stop-color="#2f45aa"/><stop offset="0.910" stop-color="#2e43a8"/><stop offset="0.920" stop-color="#2d41a7"/><stop offset="0.930" stop-color="#2d3ea5"/><stop offset="0.940" stop-color="#2c3ca4"/><stop offset="0.950" stop-color="#2b3aa2"/><stop offset="0.960" stop-color="#2a38a1"/><stop offset="0.970" stop-color="#2a379f"/><stop offset="0.980" stop-color="#29359e"/><stop offset="0.990" stop-color="#29349c"/><stop offset="1.000" stop-color="#28329b"/></linearGradient>
<rect x="143.10" y="177.20" width="6.50" height="76.00" fill="url(#g143)" stroke="#000" stroke-opacity="0.3" stroke-width="0.6"/>
<text x="151.60" y="257.35" font-size="9.4" text-anchor="start" font-family="Liberation Sans" >0</text>
<text x="151.60" y="241.95" font-size="9.4" text-anchor="start" font-family="Liberation Sans" >20</text>
<text x="151.60" y="226.55" font-size="9.4" text-anchor="start" font-family="Liberation Sans" >40</text>
<text x="151.60" y="211.15" font-size="9.4" text-anchor="start" font-family="Liberation Sans" >60</text>
<text x="151.60" y="195.75" font-size="9.4" text-anchor="start" font-family="Liberation Sans" >80</text>
<text x="29.30" y="257.80" font-size="10.1" text-anchor="end" font-family="Liberation Sans" >0</text>
<text x="29.30" y="219.80" font-size="10.1" text-anchor="end" font-family="Liberation Sans" >0.5</text>
<path d="M26.22 181.80L26.22 175.70L24.65 176.82L24.65 175.98L26.30 174.85L27.12 174.85L27.12 181.80Z" fill="#111" stroke="#111" stroke-width="0.24"/>
<text x="32.50" y="267.50" font-size="10.1" text-anchor="middle" font-family="Liberation Sans" >0</text>
<text x="84.75" y="267.50" font-size="10.1" text-anchor="middle" font-family="Liberation Sans" >0.5</text>
<path d="M136.73 267.50L136.73 261.40L135.16 262.52L135.16 261.68L136.81 260.55L137.62 260.55L137.62 267.50Z" fill="#111" stroke="#111" stroke-width="0.24"/>
<text x="84.50" y="281.30" font-size="11" text-anchor="middle" font-family="Liberation Sans" >p</text>
<g transform="translate(11.70 215.50) rotate(-90)" ><text x="0" y="0" text-anchor="middle" font-family="Liberation Sans" font-size="11">q</text></g>
<text x="84.00" y="302.00" font-size="13" text-anchor="middle" font-family="Liberation Serif" letter-spacing="0.8" style="stroke-width:0.05px;fill:#222">(c)</text>
<g transform="translate(72 169.4)"><text x="0" y="0" font-family="Liberation Serif" font-size="12" transform="scale(1 1)" style="stroke-width:0.35px">&#923;</text><text x="8.00" y="4.00" font-family="Liberation Sans" font-size="9">max</text></g>
<rect x="214.80" y="172.00" width="104.20" height="81.30" fill="#28329b"/>
<path d="M216.4 172.0L216.6 179.5L216.8 186.3L217.0 192.5L217.2 198.1L217.4 203.2L217.7 207.8L218.0 212.0L218.3 215.8L218.7 219.3L219.1 222.4L219.5 225.2L220.0 227.8L220.5 230.2L221.1 232.3L221.7 234.2L222.5 236.0L223.2 237.6L224.1 239.0L225.0 240.4L226.1 241.6L227.2 242.6L228.5 243.6L229.9 244.5L231.4 245.3L233.1 246.1L234.9 246.7L237.0 247.3L239.2 247.9L241.7 248.4L244.4 248.8L247.4 249.2L250.8 249.6L254.4 250.0L258.4 250.3L262.9 250.5L267.7 250.8L273.1 251.0L279.0 251.2L285.6 251.4L292.8 251.6L300.7 251.8L309.4 251.9L319.0 252.0L319.0 172.0Z" fill="#29369e"/>
<path d="M218.1 172.0L218.3 178.4L218.6 184.4L219.0 189.8L219.3 194.9L219.7 199.5L220.1 203.7L220.6 207.7L221.1 211.3L221.6 214.6L222.2 217.7L222.9 220.5L223.6 223.1L224.3 225.5L225.1 227.7L226.0 229.7L227.0 231.6L228.0 233.3L229.2 234.9L230.4 236.3L231.8 237.7L233.2 238.9L234.8 240.1L236.5 241.1L238.4 242.1L240.4 243.0L242.6 243.8L245.0 244.5L247.6 245.2L250.4 245.9L253.5 246.5L256.8 247.0L260.5 247.5L264.4 248.0L268.6 248.4L273.3 248.8L278.3 249.1L283.8 249.5L289.7 249.8L296.1 250.0L303.1 250.3L310.7 250.5L319.0 250.8L319.0 172.0Z" fill="#2a38a0"/>
<path d="M219.7 172.0L220.1 177.7L220.5 183.0L220.9 188.0L221.3 192.6L221.8 196.8L222.4 200.8L222.9 204.5L223.5 207.9L224.2 211.1L224.9 214.1L225.7 216.8L226.5 219.4L227.4 221.8L228.3 224.0L229.4 226.0L230.5 228.0L231.7 229.7L232.9 231.4L234.3 232.9L235.8 234.4L237.4 235.7L239.1 236.9L240.9 238.1L242.9 239.2L245.0 240.1L247.3 241.1L249.7 241.9L252.4 242.7L255.2 243.5L258.3 244.2L261.5 244.8L265.1 245.4L268.9 246.0L273.0 246.5L277.4 247.0L282.1 247.4L287.2 247.8L292.7 248.2L298.5 248.6L304.9 248.9L311.7 249.2L319.0 249.5L319.0 172.0Z" fill="#2b3ba3"/>
<path d="M221.3 172.0L221.8 177.3L222.3 182.3L222.8 186.9L223.3 191.3L223.9 195.3L224.6 199.1L225.3 202.7L226.0 206.0L226.8 209.1L227.6 212.0L228.5 214.7L229.5 217.2L230.5 219.5L231.6 221.8L232.8 223.8L234.0 225.7L235.4 227.5L236.8 229.2L238.3 230.8L240.0 232.3L241.7 233.7L243.6 234.9L245.6 236.1L247.8 237.3L250.1 238.3L252.6 239.3L255.2 240.2L258.1 241.1L261.1 241.9L264.3 242.6L267.8 243.3L271.5 244.0L275.5 244.6L279.7 245.1L284.2 245.7L289.1 246.2L294.3 246.6L299.9 247.1L305.8 247.5L312.2 247.9L319.0 248.2L319.0 172.0Z" fill="#2d3ea5"/>
<path d="M222.9 172.0L223.5 177.0L224.0 181.7L224.7 186.1L225.3 190.3L226.0 194.2L226.7 197.8L227.5 201.3L228.4 204.5L229.2 207.5L230.2 210.3L231.2 213.0L232.3 215.5L233.4 217.8L234.7 220.0L236.0 222.0L237.4 224.0L238.9 225.8L240.4 227.5L242.1 229.1L243.9 230.6L245.8 232.0L247.9 233.3L250.1 234.5L252.4 235.7L254.9 236.8L257.5 237.8L260.3 238.8L263.3 239.7L266.5 240.5L269.9 241.3L273.5 242.0L277.4 242.7L281.5 243.4L285.9 244.0L290.6 244.6L295.6 245.1L300.9 245.6L306.5 246.1L312.6 246.5L319.0 246.9L319.0 172.0Z" fill="#2e42a8"/>
<path d="M224.6 172.0L225.2 176.7L225.8 181.1L226.5 185.2L227.2 189.1L227.9 192.8L228.7 196.3L229.6 199.6L230.5 202.7L231.4 205.6L232.5 208.3L233.5 210.9L234.7 213.3L235.9 215.6L237.2 217.8L238.5 219.8L240.0 221.8L241.5 223.6L243.1 225.3L244.9 226.9L246.7 228.4L248.6 229.8L250.7 231.2L252.9 232.5L255.2 233.7L257.7 234.8L260.3 235.8L263.1 236.8L266.0 237.8L269.1 238.7L272.5 239.5L276.0 240.3L279.7 241.1L283.7 241.8L287.9 242.4L292.3 243.1L297.0 243.6L302.1 244.2L307.4 244.7L313.0 245.2L319.0 245.7L319.0 172.0Z" fill="#2f45aa"/>
<path d="M226.2 172.0L226.9 176.5L227.6 180.7L228.3 184.7L229.1 188.5L229.9 192.1L230.8 195.5L231.8 198.7L232.7 201.7L233.8 204.5L234.9 207.2L236.1 209.7L237.3 212.1L238.6 214.4L240.0 216.6L241.5 218.6L243.1 220.5L244.7 222.3L246.4 224.0L248.3 225.6L250.3 227.2L252.3 228.6L254.5 230.0L256.8 231.3L259.3 232.5L261.9 233.6L264.6 234.7L267.5 235.7L270.6 236.7L273.9 237.6L277.3 238.5L281.0 239.3L284.8 240.1L288.9 240.8L293.3 241.5L297.8 242.1L302.7 242.8L307.8 243.3L313.3 243.9L319.0 244.4L319.0 172.0Z" fill="#304aad"/>
<path d="M227.8 172.0L228.5 176.2L229.3 180.2L230.1 184.0L230.9 187.6L231.8 191.0L232.7 194.3L233.7 197.3L234.8 200.2L235.8 203.0L237.0 205.6L238.2 208.1L239.5 210.4L240.8 212.7L242.3 214.8L243.8 216.8L245.4 218.7L247.0 220.5L248.8 222.2L250.7 223.8L252.6 225.3L254.7 226.8L256.9 228.1L259.2 229.4L261.6 230.7L264.2 231.9L266.9 233.0L269.8 234.0L272.8 235.0L275.9 236.0L279.3 236.9L282.8 237.7L286.5 238.5L290.5 239.3L294.6 240.0L299.0 240.7L303.6 241.4L308.5 242.0L313.6 242.6L319.0 243.1L319.0 172.0Z" fill="#324eb0"/>
<path d="M229.5 172.0L230.2 176.1L231.0 180.0L231.9 183.7L232.8 187.2L233.8 190.5L234.8 193.7L235.8 196.7L236.9 199.5L238.1 202.2L239.4 204.8L240.7 207.2L242.0 209.5L243.5 211.7L245.0 213.8L246.6 215.8L248.3 217.7L250.0 219.5L251.9 221.2L253.9 222.8L255.9 224.3L258.1 225.8L260.4 227.2L262.8 228.5L265.4 229.7L268.1 230.9L270.9 232.1L273.9 233.1L277.0 234.1L280.3 235.1L283.7 236.0L287.4 236.9L291.2 237.7L295.3 238.5L299.6 239.2L304.1 240.0L308.8 240.6L313.8 241.3L319.0 241.9L319.0 172.0Z" fill="#3353b3"/>
<path d="M231.1 172.0L231.9 176.0L232.8 179.8L233.7 183.4L234.7 186.8L235.7 190.0L236.8 193.1L237.9 196.1L239.1 198.9L240.4 201.5L241.7 204.1L243.1 206.5L244.5 208.8L246.1 211.0L247.7 213.0L249.4 215.0L251.1 216.9L253.0 218.7L255.0 220.3L257.0 222.0L259.2 223.5L261.5 225.0L263.9 226.3L266.4 227.7L269.1 228.9L271.9 230.1L274.8 231.2L277.9 232.3L281.1 233.3L284.6 234.3L288.1 235.3L291.9 236.1L295.9 237.0L300.1 237.8L304.4 238.5L309.1 239.3L313.9 239.9L319.0 240.6L319.0 172.0Z" fill="#3458b6"/>
<path d="M232.7 172.0L233.6 175.8L234.5 179.4L235.5 182.8L236.5 186.1L237.5 189.2L238.6 192.2L239.8 195.0L241.0 197.7L242.3 200.3L243.6 202.8L245.0 205.1L246.5 207.4L248.0 209.5L249.7 211.5L251.4 213.5L253.2 215.3L255.0 217.1L257.0 218.8L259.0 220.4L261.2 221.9L263.5 223.4L265.8 224.8L268.3 226.1L270.9 227.4L273.7 228.6L276.5 229.7L279.5 230.8L282.7 231.9L286.0 232.9L289.5 233.8L293.1 234.7L296.9 235.6L300.9 236.4L305.1 237.2L309.5 237.9L314.2 238.6L319.0 239.3L319.0 172.0Z" fill="#355eba"/>
<path d="M234.3 172.0L235.3 175.7L236.2 179.2L237.3 182.6L238.3 185.8L239.5 188.9L240.6 191.8L241.9 194.6L243.1 197.3L244.5 199.8L245.9 202.2L247.4 204.6L248.9 206.8L250.6 208.9L252.3 210.9L254.0 212.8L255.9 214.7L257.9 216.4L259.9 218.1L262.1 219.7L264.3 221.2L266.7 222.7L269.1 224.1L271.7 225.4L274.4 226.7L277.3 227.9L280.3 229.0L283.4 230.1L286.6 231.2L290.1 232.2L293.6 233.2L297.4 234.1L301.3 234.9L305.4 235.8L309.7 236.6L314.3 237.3L319.0 238.1L319.0 172.0Z" fill="#3663be"/>
<path d="M236.0 172.0L237.0 175.6L238.0 179.1L239.1 182.4L240.2 185.5L241.4 188.6L242.6 191.4L243.9 194.2L245.3 196.8L246.7 199.3L248.2 201.7L249.7 204.0L251.4 206.2L253.1 208.3L254.8 210.3L256.7 212.2L258.7 214.1L260.7 215.8L262.8 217.5L265.1 219.1L267.4 220.6L269.9 222.1L272.4 223.4L275.1 224.8L277.9 226.0L280.9 227.3L284.0 228.4L287.2 229.5L290.6 230.6L294.1 231.6L297.8 232.6L301.6 233.5L305.7 234.4L309.9 235.2L314.4 236.0L319.0 236.8L319.0 172.0Z" fill="#376bc4"/>
<path d="M237.6 172.0L238.6 175.5L239.7 178.8L240.8 181.9L241.9 185.0L243.1 187.9L244.4 190.6L245.7 193.3L247.1 195.9L248.5 198.3L250.0 200.6L251.6 202.9L253.2 205.0L254.9 207.1L256.7 209.0L258.5 210.9L260.5 212.7L262.5 214.4L264.6 216.1L266.8 217.7L269.1 219.2L271.5 220.6L274.1 222.0L276.7 223.4L279.4 224.6L282.3 225.8L285.3 227.0L288.4 228.1L291.7 229.2L295.1 230.2L298.7 231.2L302.4 232.1L306.3 233.0L310.3 233.9L314.6 234.7L319.0 235.5L319.0 172.0Z" fill="#3874ca"/>
<path d="M239.2 172.0L240.3 175.4L241.4 178.7L242.6 181.8L243.8 184.8L245.0 187.6L246.3 190.4L247.7 193.0L249.2 195.5L250.7 197.9L252.2 200.2L253.9 202.5L255.6 204.6L257.3 206.6L259.2 208.6L261.1 210.4L263.1 212.2L265.2 213.9L267.4 215.6L269.7 217.2L272.1 218.7L274.6 220.1L277.2 221.5L280.0 222.8L282.8 224.1L285.8 225.3L288.9 226.5L292.1 227.6L295.5 228.7L299.0 229.7L302.6 230.7L306.5 231.6L310.5 232.5L314.6 233.4L319.0 234.2L319.0 172.0Z" fill="#397dd1"/>
<path d="M240.9 172.0L241.9 175.2L243.1 178.4L244.2 181.4L245.5 184.2L246.7 187.0L248.1 189.6L249.5 192.2L250.9 194.6L252.4 197.0L254.0 199.2L255.6 201.4L257.3 203.5L259.1 205.4L260.9 207.4L262.8 209.2L264.8 211.0L266.9 212.7L269.1 214.3L271.3 215.8L273.7 217.3L276.1 218.8L278.7 220.1L281.3 221.5L284.1 222.7L287.0 224.0L290.0 225.1L293.1 226.3L296.4 227.3L299.8 228.4L303.3 229.4L307.0 230.3L310.8 231.2L314.8 232.1L319.0 233.0L319.0 172.0Z" fill="#3c8ad8"/>
<path d="M242.5 172.0L243.6 175.2L244.8 178.3L246.0 181.2L247.3 184.1L248.6 186.8L250.0 189.4L251.5 191.9L253.0 194.3L254.5 196.7L256.2 198.9L257.9 201.0L259.6 203.1L261.5 205.1L263.4 207.0L265.4 208.8L267.4 210.5L269.6 212.2L271.8 213.8L274.2 215.4L276.6 216.9L279.1 218.3L281.8 219.7L284.5 221.0L287.4 222.3L290.4 223.5L293.5 224.7L296.7 225.8L300.0 226.9L303.5 227.9L307.2 228.9L311.0 229.9L314.9 230.8L319.0 231.7L319.0 172.0Z" fill="#419be1"/>
<path d="M244.1 172.0L245.3 175.2L246.5 178.2L247.8 181.1L249.1 183.9L250.5 186.6L252.0 189.2L253.5 191.7L255.0 194.1L256.7 196.4L258.4 198.6L260.1 200.7L262.0 202.8L263.9 204.7L265.8 206.6L267.9 208.4L270.1 210.2L272.3 211.9L274.6 213.5L277.0 215.0L279.6 216.5L282.2 217.9L284.9 219.3L287.7 220.6L290.7 221.9L293.8 223.1L296.9 224.3L300.3 225.4L303.7 226.5L307.3 227.5L311.1 228.5L315.0 229.5L319.0 230.4L319.0 172.0Z" fill="#46adea"/>
<path d="M245.7 172.0L246.9 175.0L248.2 177.9L249.5 180.7L250.8 183.5L252.2 186.1L253.6 188.6L255.1 191.0L256.7 193.3L258.3 195.5L260.0 197.7L261.8 199.7L263.6 201.7L265.5 203.7L267.4 205.5L269.5 207.3L271.6 209.0L273.8 210.7L276.1 212.2L278.4 213.8L280.9 215.2L283.4 216.7L286.1 218.0L288.9 219.3L291.7 220.6L294.7 221.8L297.8 223.0L301.0 224.1L304.3 225.2L307.8 226.3L311.4 227.3L315.1 228.2L319.0 229.2L319.0 172.0Z" fill="#4dc1f0"/>
<path d="M247.4 172.0L248.6 175.0L249.9 177.9L251.2 180.7L252.6 183.3L254.1 185.9L255.6 188.4L257.1 190.8L258.8 193.1L260.4 195.3L262.2 197.4L264.0 199.5L265.9 201.5L267.8 203.4L269.9 205.2L272.0 207.0L274.2 208.7L276.4 210.3L278.8 211.9L281.2 213.4L283.8 214.9L286.4 216.3L289.1 217.7L292.0 219.0L294.9 220.3L298.0 221.5L301.2 222.7L304.5 223.8L307.9 224.9L311.5 225.9L315.2 226.9L319.0 227.9L319.0 172.0Z" fill="#51cef1"/>
<path d="M249.0 172.0L250.3 175.0L251.6 177.8L253.0 180.6L254.5 183.2L256.0 185.8L257.5 188.2L259.1 190.6L260.8 192.9L262.6 195.1L264.4 197.2L266.2 199.3L268.2 201.2L270.2 203.1L272.3 205.0L274.5 206.7L276.7 208.4L279.1 210.1L281.5 211.6L284.0 213.2L286.7 214.6L289.4 216.0L292.2 217.4L295.1 218.7L298.2 220.0L301.3 221.2L304.6 222.4L308.0 223.5L311.5 224.6L315.2 225.6L319.0 226.6L319.0 172.0Z" fill="#4ecde9"/>
<path d="M250.6 172.0L251.9 174.8L253.3 177.6L254.7 180.2L256.1 182.8L257.6 185.3L259.1 187.6L260.8 189.9L262.4 192.1L264.1 194.3L265.9 196.3L267.8 198.3L269.7 200.3L271.7 202.1L273.8 203.9L275.9 205.6L278.1 207.3L280.4 208.9L282.8 210.5L285.2 212.0L287.8 213.4L290.4 214.8L293.2 216.1L296.0 217.4L299.0 218.7L302.0 219.9L305.2 221.1L308.4 222.2L311.8 223.3L315.4 224.3L319.0 225.4L319.0 172.0Z" fill="#4ccce1"/>
<path d="M252.2 172.0L253.6 174.8L255.0 177.5L256.4 180.2L257.9 182.7L259.5 185.2L261.1 187.5L262.7 189.8L264.5 192.0L266.2 194.1L268.1 196.2L270.0 198.2L272.0 200.1L274.0 201.9L276.2 203.7L278.4 205.4L280.7 207.1L283.0 208.7L285.5 210.2L288.0 211.7L290.6 213.2L293.4 214.6L296.2 215.9L299.1 217.2L302.1 218.4L305.3 219.7L308.5 220.8L311.9 221.9L315.4 223.0L319.0 224.1L319.0 172.0Z" fill="#4fcad4"/>
<path d="M253.9 172.0L255.2 174.7L256.6 177.3L258.0 179.8L259.5 182.3L261.1 184.6L262.7 186.9L264.3 189.1L266.0 191.3L267.8 193.3L269.6 195.3L271.5 197.3L273.4 199.1L275.5 200.9L277.5 202.7L279.7 204.3L281.9 206.0L284.2 207.6L286.6 209.1L289.1 210.5L291.7 212.0L294.3 213.3L297.0 214.7L299.9 216.0L302.8 217.2L305.8 218.4L308.9 219.6L312.2 220.7L315.5 221.8L319.0 222.8L319.0 172.0Z" fill="#51c8c6"/>
<path d="M255.5 172.0L256.9 174.7L258.3 177.3L259.8 179.8L261.4 182.2L262.9 184.6L264.6 186.8L266.3 189.0L268.0 191.1L269.9 193.2L271.7 195.2L273.7 197.1L275.7 199.0L277.8 200.8L279.9 202.5L282.1 204.2L284.4 205.8L286.8 207.4L289.3 208.9L291.8 210.3L294.5 211.8L297.2 213.1L300.0 214.5L302.9 215.7L305.9 217.0L309.0 218.2L312.2 219.3L315.6 220.5L319.0 221.5L319.0 172.0Z" fill="#54c6b9"/>
<path d="M257.1 172.0L258.6 174.7L260.1 177.2L261.6 179.7L263.2 182.2L264.8 184.5L266.5 186.7L268.3 188.9L270.1 191.0L272.0 193.1L273.9 195.1L275.9 197.0L278.0 198.8L280.1 200.6L282.3 202.3L284.6 204.0L287.0 205.6L289.4 207.2L292.0 208.7L294.6 210.2L297.3 211.6L300.1 213.0L303.0 214.3L306.0 215.6L309.1 216.8L312.3 218.0L315.6 219.2L319.0 220.3L319.0 172.0Z" fill="#5bc6a8"/>
<path d="M258.8 172.0L260.2 174.6L261.7 177.0L263.2 179.4L264.8 181.8L266.4 184.0L268.1 186.2L269.8 188.3L271.6 190.3L273.4 192.3L275.3 194.2L277.3 196.1L279.3 197.9L281.4 199.6L283.6 201.3L285.8 203.0L288.1 204.5L290.5 206.1L292.9 207.6L295.5 209.0L298.1 210.4L300.8 211.8L303.6 213.1L306.5 214.3L309.5 215.5L312.5 216.7L315.7 217.9L319.0 219.0L319.0 172.0Z" fill="#63c797"/>
<path d="M260.4 172.0L261.9 174.5L263.4 177.0L265.0 179.4L266.6 181.7L268.2 183.9L270.0 186.1L271.8 188.2L273.6 190.3L275.5 192.2L277.5 194.1L279.5 196.0L281.6 197.8L283.7 199.5L285.9 201.2L288.2 202.8L290.6 204.4L293.1 205.9L295.6 207.4L298.2 208.9L300.9 210.3L303.7 211.6L306.6 212.9L309.5 214.2L312.6 215.4L315.7 216.6L319.0 217.7L319.0 172.0Z" fill="#6ac786"/>
<path d="M262.0 172.0L263.5 174.5L265.1 177.0L266.7 179.4L268.4 181.7L270.1 183.9L271.9 186.1L273.7 188.2L275.6 190.2L277.6 192.2L279.6 194.1L281.7 195.9L283.8 197.7L286.1 199.4L288.4 201.1L290.7 202.7L293.2 204.3L295.7 205.8L298.3 207.3L301.0 208.8L303.7 210.1L306.6 211.5L309.6 212.8L312.6 214.1L315.8 215.3L319.0 216.5L319.0 172.0Z" fill="#72c875"/>
<path d="M263.6 172.0L265.1 174.4L266.7 176.8L268.3 179.1L269.9 181.3L271.6 183.4L273.4 185.5L275.2 187.5L277.0 189.5L279.0 191.4L280.9 193.3L283.0 195.0L285.1 196.8L287.2 198.5L289.5 200.1L291.8 201.7L294.1 203.2L296.6 204.7L299.1 206.2L301.7 207.6L304.3 209.0L307.1 210.3L309.9 211.6L312.9 212.8L315.9 214.0L319.0 215.2L319.0 172.0Z" fill="#7ecb67"/>
<path d="M265.3 172.0L266.8 174.4L268.4 176.8L270.1 179.0L271.8 181.3L273.5 183.4L275.3 185.5L277.2 187.5L279.1 189.5L281.0 191.4L283.1 193.2L285.2 195.0L287.3 196.7L289.5 198.4L291.8 200.0L294.2 201.6L296.6 203.2L299.1 204.6L301.7 206.1L304.4 207.5L307.1 208.9L310.0 210.2L312.9 211.5L315.9 212.7L319.0 213.9L319.0 172.0Z" fill="#8bce5a"/>
<path d="M266.9 172.0L268.4 174.3L270.0 176.6L271.6 178.7L273.3 180.9L275.0 182.9L276.8 184.9L278.6 186.9L280.4 188.8L282.4 190.6L284.3 192.4L286.4 194.1L288.5 195.8L290.6 197.4L292.9 199.0L295.1 200.6L297.5 202.1L299.9 203.5L302.4 205.0L305.0 206.3L307.6 207.7L310.4 209.0L313.2 210.2L316.0 211.5L319.0 212.7L319.0 172.0Z" fill="#99d24e"/>
<path d="M268.5 172.0L270.1 174.3L271.7 176.6L273.4 178.7L275.1 180.8L276.8 182.9L278.7 184.9L280.5 186.8L282.4 188.7L284.4 190.6L286.5 192.3L288.6 194.1L290.7 195.8L292.9 197.4L295.2 199.0L297.6 200.5L300.0 202.0L302.5 203.5L305.0 204.9L307.7 206.3L310.4 207.6L313.2 208.9L316.0 210.2L319.0 211.4L319.0 172.0Z" fill="#a6d541"/>
<path d="M270.2 172.0L271.8 174.3L273.4 176.5L275.1 178.7L276.9 180.8L278.7 182.9L280.6 184.9L282.5 186.8L284.5 188.7L286.5 190.5L288.6 192.3L290.7 194.0L293.0 195.7L295.2 197.4L297.6 198.9L300.0 200.5L302.5 202.0L305.0 203.4L307.7 204.8L310.4 206.2L313.2 207.6L316.0 208.8L319.0 210.1L319.0 172.0Z" fill="#b4d939"/>
<path d="M271.8 172.0L273.4 174.2L275.0 176.3L276.7 178.4L278.4 180.4L280.2 182.4L282.0 184.3L283.8 186.2L285.8 188.0L287.7 189.8L289.8 191.5L291.9 193.2L294.0 194.8L296.2 196.4L298.5 197.9L300.8 199.4L303.2 200.9L305.6 202.3L308.2 203.7L310.8 205.0L313.4 206.3L316.2 207.6L319.0 208.8L319.0 172.0Z" fill="#c2dc35"/>
<path d="M273.4 172.0L275.0 174.2L276.7 176.3L278.4 178.4L280.2 180.4L282.0 182.4L283.9 184.3L285.8 186.2L287.8 188.0L289.8 189.8L291.9 191.5L294.0 193.2L296.2 194.8L298.5 196.4L300.8 197.9L303.2 199.4L305.7 200.9L308.2 202.3L310.8 203.7L313.4 205.0L316.2 206.3L319.0 207.6L319.0 172.0Z" fill="#d0e030"/>
<path d="M275.0 172.0L276.7 174.2L278.4 176.3L280.2 178.4L282.0 180.4L283.9 182.4L285.8 184.3L287.8 186.2L289.8 188.0L291.9 189.8L294.0 191.5L296.2 193.2L298.5 194.8L300.8 196.4L303.2 197.9L305.7 199.4L308.2 200.9L310.8 202.3L313.4 203.7L316.2 205.0L319.0 206.3L319.0 172.0Z" fill="#dde32b"/>
<path d="M276.7 172.0L278.3 174.1L280.0 176.1L281.7 178.1L283.5 180.0L285.3 181.9L287.1 183.8L289.1 185.6L291.0 187.3L293.0 189.0L295.1 190.7L297.2 192.3L299.4 193.8L301.6 195.4L303.9 196.9L306.3 198.3L308.7 199.7L311.2 201.1L313.7 202.4L316.3 203.8L319.0 205.0L319.0 172.0Z" fill="#e8e627"/>
<path d="M278.3 172.0L280.0 174.1L281.7 176.1L283.5 178.1L285.3 180.1L287.1 181.9L289.0 183.8L291.0 185.6L293.0 187.3L295.1 189.0L297.2 190.7L299.4 192.3L301.6 193.8L303.9 195.4L306.3 196.9L308.7 198.3L311.2 199.7L313.7 201.1L316.3 202.4L319.0 203.8L319.0 172.0Z" fill="#f0e923"/>
<path d="M279.9 172.0L281.6 174.0L283.2 175.9L284.9 177.8L286.7 179.7L288.5 181.5L290.3 183.2L292.2 184.9L294.2 186.6L296.2 188.2L298.2 189.8L300.3 191.4L302.4 192.9L304.6 194.4L306.9 195.8L309.2 197.2L311.5 198.6L314.0 199.9L316.5 201.2L319.0 202.5L319.0 172.0Z" fill="#f9eb1f"/>
<path d="M281.6 172.0L283.2 174.0L284.9 175.9L286.7 177.8L288.5 179.7L290.3 181.5L292.2 183.2L294.2 184.9L296.2 186.6L298.2 188.2L300.3 189.8L302.4 191.4L304.6 192.9L306.9 194.4L309.2 195.8L311.5 197.2L314.0 198.6L316.5 199.9L319.0 201.2L319.0 172.0Z" fill="#fce11e"/>
<path d="M283.2 172.0L284.9 174.0L286.7 175.9L288.5 177.8L290.3 179.7L292.2 181.5L294.1 183.2L296.1 184.9L298.2 186.6L300.3 188.3L302.4 189.8L304.6 191.4L306.9 192.9L309.2 194.4L311.5 195.8L314.0 197.2L316.4 198.6L319.0 199.9L319.0 172.0Z" fill="#fcd11e"/>
<path d="M284.8 172.0L286.5 173.9L288.2 175.7L289.9 177.5L291.7 179.3L293.5 181.0L295.4 182.6L297.3 184.3L299.2 185.9L301.2 187.4L303.3 189.0L305.4 190.4L307.5 191.9L309.7 193.3L311.9 194.7L314.2 196.1L316.6 197.4L319.0 198.7L319.0 172.0Z" fill="#fcc01e"/>
<path d="M286.4 172.0L288.1 173.9L289.9 175.7L291.7 177.5L293.5 179.3L295.3 181.0L297.2 182.7L299.2 184.3L301.2 185.9L303.2 187.4L305.3 189.0L307.5 190.5L309.7 191.9L311.9 193.3L314.2 194.7L316.6 196.1L319.0 197.4L319.0 172.0Z" fill="#fba61e"/>
<path d="M288.1 172.0L289.8 173.9L291.6 175.7L293.4 177.5L295.3 179.3L297.2 181.0L299.2 182.7L301.2 184.3L303.2 185.9L305.3 187.5L307.5 189.0L309.7 190.5L311.9 192.0L314.2 193.4L316.6 194.8L319.0 196.1L319.0 172.0Z" fill="#fa8d1e"/>
<path d="M289.7 172.0L291.4 173.8L293.1 175.5L294.8 177.2L296.6 178.9L298.4 180.5L300.3 182.1L302.2 183.6L304.1 185.1L306.1 186.6L308.1 188.1L310.2 189.5L312.3 190.9L314.5 192.2L316.7 193.6L319.0 194.9L319.0 172.0Z" fill="#f7761e"/>
<path d="M291.3 172.0L293.0 173.8L294.8 175.5L296.6 177.2L298.4 178.9L300.2 180.5L302.1 182.1L304.1 183.6L306.1 185.1L308.1 186.6L310.2 188.1L312.3 189.5L314.5 190.9L316.7 192.3L319.0 193.6L319.0 172.0Z" fill="#f4601e"/>
<path d="M292.9 172.0L294.6 173.7L296.2 175.3L297.9 176.9L299.6 178.4L301.4 179.9L303.2 181.4L305.0 182.9L306.9 184.3L308.8 185.7L310.8 187.1L312.8 188.4L314.8 189.8L316.9 191.1L319.0 192.3L319.0 172.0Z" fill="#f14d1f"/>
<path d="M294.6 172.0L296.2 173.7L297.9 175.3L299.6 176.9L301.4 178.4L303.2 179.9L305.0 181.4L306.9 182.9L308.8 184.3L310.8 185.7L312.8 187.1L314.8 188.4L316.9 189.8L319.0 191.1L319.0 172.0Z" fill="#ee3b20"/>
<path d="M296.2 172.0L297.9 173.7L299.6 175.3L301.4 176.9L303.2 178.4L305.0 179.9L306.9 181.4L308.8 182.9L310.8 184.3L312.8 185.7L314.8 187.1L316.9 188.5L319.0 189.8L319.0 172.0Z" fill="#ec2d21"/>
<path d="M297.8 172.0L299.4 173.5L301.0 175.0L302.7 176.5L304.4 177.9L306.1 179.3L307.8 180.7L309.6 182.1L311.4 183.4L313.2 184.7L315.1 186.0L317.0 187.3L319.0 188.5L319.0 172.0Z" fill="#ea2822"/>
<path d="M299.5 172.0L301.1 173.5L302.7 175.0L304.4 176.5L306.1 177.9L307.8 179.3L309.6 180.7L311.4 182.1L313.3 183.4L315.1 184.7L317.1 186.0L319.0 187.2L319.0 172.0Z" fill="#e82422"/>
<path d="M301.1 172.0L302.7 173.5L304.4 175.0L306.1 176.5L307.9 177.9L309.6 179.3L311.4 180.7L313.3 182.1L315.1 183.4L317.1 184.7L319.0 186.0L319.0 172.0Z" fill="#e61f23"/>
<path d="M302.7 172.0L304.2 173.4L305.8 174.7L307.3 176.0L308.9 177.3L310.5 178.6L312.2 179.9L313.8 181.1L315.5 182.3L317.2 183.5L319.0 184.7L319.0 172.0Z" fill="#e31e23"/>
<path d="M304.3 172.0L305.9 173.4L307.4 174.7L309.0 176.0L310.6 177.3L312.2 178.6L313.9 179.8L315.5 181.0L317.3 182.2L319.0 183.4L319.0 172.0Z" fill="#df1d23"/>
<path d="M306.0 172.0L307.3 173.2L308.7 174.4L310.1 175.5L311.5 176.7L313.0 177.8L314.5 178.9L316.0 180.0L317.5 181.1L319.0 182.2L319.0 172.0Z" fill="#db1d22"/>
<path d="M307.6 172.0L309.0 173.2L310.3 174.3L311.7 175.5L313.1 176.6L314.6 177.7L316.0 178.8L317.5 179.8L319.0 180.9L319.0 172.0Z" fill="#d71c22"/>
<path d="M309.2 172.0L310.6 173.1L311.9 174.3L313.3 175.4L314.7 176.4L316.1 177.5L317.5 178.6L319.0 179.6L319.0 172.0Z" fill="#cf1b21"/>
<path d="M310.9 172.0L312.0 172.9L313.1 173.9L314.3 174.8L315.4 175.7L316.6 176.6L317.8 177.5L319.0 178.4L319.0 172.0Z" fill="#c51a20"/>
<path d="M312.5 172.0L313.5 172.9L314.6 173.7L315.7 174.6L316.8 175.4L317.9 176.3L319.0 177.1L319.0 172.0Z" fill="#bc181e"/>
<path d="M314.1 172.0L314.9 172.6L315.7 173.3L316.5 173.9L317.3 174.6L318.2 175.2L319.0 175.8L319.0 172.0Z" fill="#af171d"/>
<path d="M315.7 172.0L316.3 172.4L316.8 172.9L317.4 173.3L317.9 173.7L318.5 174.1L319.0 174.5L319.0 172.0Z" fill="#a1151b"/>
<path d="M317.4 172.0L317.6 172.2L317.9 172.4L318.2 172.6L318.5 172.8L318.7 173.1L319.0 173.3L319.0 172.0Z" fill="#931319"/>
<rect x="214.80" y="172.00" width="104.20" height="81.30" fill="none" stroke="#000" stroke-opacity="0.28" stroke-width="0.6"/>
<linearGradient id="g325" x1="0" y1="0" x2="0" y2="1"><stop offset="0.000" stop-color="#8c1218"/><stop offset="0.010" stop-color="#951319"/><stop offset="0.020" stop-color="#9e141a"/><stop offset="0.030" stop-color="#a7161c"/><stop offset="0.040" stop-color="#b0171d"/><stop offset="0.050" stop-color="#b9181e"/><stop offset="0.060" stop-color="#bf191f"/><stop offset="0.070" stop-color="#c51a20"/><stop offset="0.080" stop-color="#cb1a20"/><stop offset="0.090" stop-color="#d11b21"/><stop offset="0.100" stop-color="#d71c22"/><stop offset="0.110" stop-color="#da1c22"/><stop offset="0.120" stop-color="#dc1d22"/><stop offset="0.130" stop-color="#de1d22"/><stop offset="0.140" stop-color="#e11d23"/><stop offset="0.150" stop-color="#e41e23"/><stop offset="0.160" stop-color="#e61e23"/><stop offset="0.170" stop-color="#e72123"/><stop offset="0.180" stop-color="#e82422"/><stop offset="0.190" stop-color="#e92722"/><stop offset="0.200" stop-color="#ea2a22"/><stop offset="0.210" stop-color="#eb2d21"/><stop offset="0.220" stop-color="#ed3421"/><stop offset="0.230" stop-color="#ef3f20"/><stop offset="0.240" stop-color="#f14b1f"/><stop offset="0.250" stop-color="#f3561e"/><stop offset="0.260" stop-color="#f5631e"/><stop offset="0.270" stop-color="#f7711e"/><stop offset="0.280" stop-color="#f8801e"/><stop offset="0.290" stop-color="#fa8e1e"/><stop offset="0.300" stop-color="#fb9f1e"/><stop offset="0.310" stop-color="#fbaf1e"/><stop offset="0.320" stop-color="#fcc01e"/><stop offset="0.330" stop-color="#fcca1e"/><stop offset="0.340" stop-color="#fcd51e"/><stop offset="0.350" stop-color="#fcdf1e"/><stop offset="0.360" stop-color="#fcea1e"/><stop offset="0.370" stop-color="#f8eb20"/><stop offset="0.380" stop-color="#f2e922"/><stop offset="0.390" stop-color="#ece725"/><stop offset="0.400" stop-color="#e7e628"/><stop offset="0.410" stop-color="#e1e42a"/><stop offset="0.420" stop-color="#d8e22d"/><stop offset="0.430" stop-color="#cfe030"/><stop offset="0.440" stop-color="#c7de33"/><stop offset="0.450" stop-color="#bedb36"/><stop offset="0.460" stop-color="#b5d939"/><stop offset="0.470" stop-color="#acd73c"/><stop offset="0.480" stop-color="#a3d544"/><stop offset="0.490" stop-color="#9bd24c"/><stop offset="0.500" stop-color="#92d054"/><stop offset="0.510" stop-color="#8ace5c"/><stop offset="0.520" stop-color="#81cb64"/><stop offset="0.530" stop-color="#78c96c"/><stop offset="0.540" stop-color="#72c876"/><stop offset="0.550" stop-color="#6dc881"/><stop offset="0.560" stop-color="#68c78c"/><stop offset="0.570" stop-color="#63c797"/><stop offset="0.580" stop-color="#5ec7a2"/><stop offset="0.590" stop-color="#59c6ad"/><stop offset="0.600" stop-color="#54c6b8"/><stop offset="0.610" stop-color="#52c7c0"/><stop offset="0.620" stop-color="#51c8c9"/><stop offset="0.630" stop-color="#4fcad1"/><stop offset="0.640" stop-color="#4ecbda"/><stop offset="0.650" stop-color="#4ccce2"/><stop offset="0.660" stop-color="#4ecde7"/><stop offset="0.670" stop-color="#4fcdec"/><stop offset="0.680" stop-color="#51cef1"/><stop offset="0.690" stop-color="#50c8f2"/><stop offset="0.700" stop-color="#4bbbee"/><stop offset="0.710" stop-color="#46aeea"/><stop offset="0.720" stop-color="#43a3e5"/><stop offset="0.730" stop-color="#4098df"/><stop offset="0.740" stop-color="#3d8dda"/><stop offset="0.750" stop-color="#3a82d4"/><stop offset="0.760" stop-color="#397cd0"/><stop offset="0.770" stop-color="#3876cc"/><stop offset="0.780" stop-color="#3871c7"/><stop offset="0.790" stop-color="#376bc3"/><stop offset="0.800" stop-color="#3665bf"/><stop offset="0.810" stop-color="#3561bd"/><stop offset="0.820" stop-color="#355eba"/><stop offset="0.830" stop-color="#345ab8"/><stop offset="0.840" stop-color="#3457b5"/><stop offset="0.850" stop-color="#3353b3"/><stop offset="0.860" stop-color="#3250b1"/><stop offset="0.870" stop-color="#314daf"/><stop offset="0.880" stop-color="#314bae"/><stop offset="0.890" stop-color="#3048ac"/><stop offset="0.900" stop-color="#2f45aa"/><stop offset="0.910" stop-color="#2e43a8"/><stop offset="0.920" stop-color="#2d41a7"/><stop offset="0.930" stop-color="#2d3ea5"/><stop offset="0.940" stop-color="#2c3ca4"/><stop offset="0.950" stop-color="#2b3aa2"/><stop offset="0.960" stop-color="#2a38a1"/><stop offset="0.970" stop-color="#2a379f"/><stop offset="0.980" stop-color="#29359e"/><stop offset="0.990" stop-color="#29349c"/><stop offset="1.000" stop-color="#28329b"/></linearGradient>
<rect x="325.00" y="172.00" width="7.00" height="81.30" fill="url(#g325)" stroke="#000" stroke-opacity="0.3" stroke-width="0.6"/>
<text x="334.40" y="257.20" font-size="9.4" text-anchor="start" font-family="Liberation Sans" >0</text>
<text x="334.40" y="216.55" font-size="9.4" text-anchor="start" font-family="Liberation Sans" >50</text>
<path d="M336.76 175.90L336.76 170.22L335.30 171.26L335.30 170.48L336.83 169.43L337.59 169.43L337.59 175.90Z" fill="#111" stroke="#111" stroke-width="0.24"/>
<text x="339.63" y="175.90" font-size="9.4" font-family="Liberation Sans" >0</text>
<text x="344.86" y="175.90" font-size="9.4" font-family="Liberation Sans" >0</text>
<text x="211.80" y="258.00" font-size="10.1" text-anchor="end" font-family="Liberation Sans" >0</text>
<text x="211.80" y="217.00" font-size="10.1" text-anchor="end" font-family="Liberation Sans" >0.5</text>
<path d="M208.72 176.00L208.72 169.90L207.15 171.02L207.15 170.18L208.80 169.05L209.62 169.05L209.62 176.00Z" fill="#111" stroke="#111" stroke-width="0.24"/>
<text x="214.80" y="267.50" font-size="10.1" text-anchor="middle" font-family="Liberation Sans" >0</text>
<text x="266.90" y="267.50" font-size="10.1" text-anchor="middle" font-family="Liberation Sans" >0.5</text>
<path d="M318.73 267.50L318.73 261.40L317.16 262.52L317.16 261.68L318.81 260.55L319.62 260.55L319.62 267.50Z" fill="#111" stroke="#111" stroke-width="0.24"/>
<text x="266.30" y="281.30" font-size="11" text-anchor="middle" font-family="Liberation Sans" >p</text>
<g transform="translate(193.80 213.00) rotate(-90)" ><text x="0" y="0" text-anchor="middle" font-family="Liberation Sans" font-size="11">q</text></g>
<text x="268.30" y="302.00" font-size="13" text-anchor="middle" font-family="Liberation Serif" letter-spacing="0.8" style="stroke-width:0.05px;fill:#222">(d)</text>
<text x="266.70" y="168.00" font-size="11" text-anchor="middle" font-family="Liberation Sans" >Npq</text>
</g>
</svg>
</body></html>
